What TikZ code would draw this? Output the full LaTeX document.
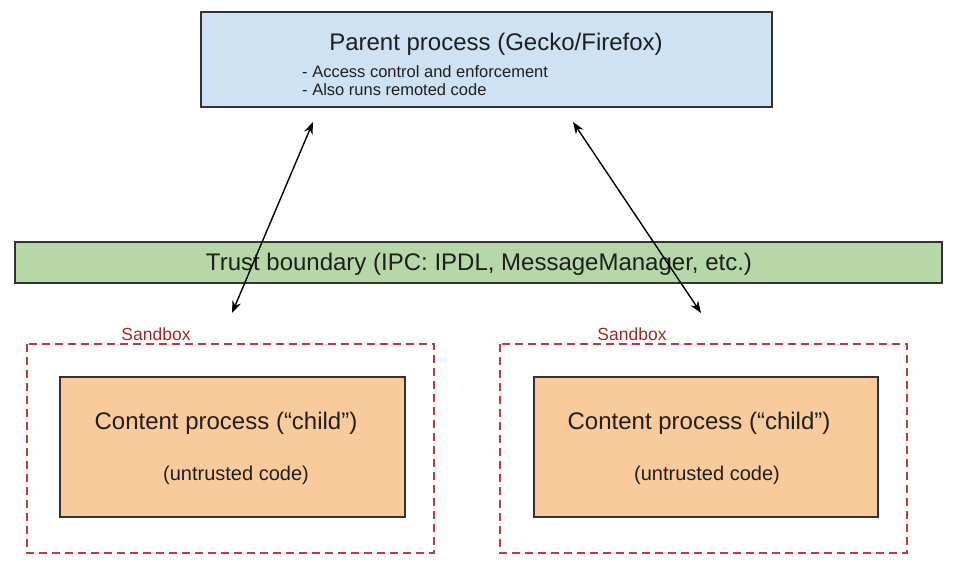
\documentclass[tikz,border=0pt]{standalone}
\usepackage{fontspec}
\setmainfont{Liberation Sans}
\usetikzlibrary{arrows.meta}
\definecolor{parentfill}{HTML}{CFE2F3}
\definecolor{trustfill}{HTML}{B6D7A8}
\definecolor{childfill}{HTML}{F9CB9C}
\definecolor{sandred}{HTML}{C0393B}
\definecolor{sandtext}{HTML}{A0282A}
\definecolor{boxline}{HTML}{333333}
\tikzset{
  procbox/.style={draw=boxline, line width=1.8pt, inner sep=0pt},
  sandboxrect/.style={draw=sandred, line width=1.8pt, dash pattern=on 8pt off 5pt},
  sandlabel/.style={text=sandtext, font=\fontsize{17.5}{20}\selectfont, inner sep=0pt},
  txt/.style={inner sep=0pt, text=black!88},
  link/.style={line width=1.4pt, {Stealth[length=12pt,width=9pt]}-{Stealth[length=12pt,width=9pt]}},
}
\begin{document}
\begin{tikzpicture}[x=1pt,y=-1pt]
\useasboundingbox (0,0) rectangle (955,568);
% parent
\draw[procbox, fill=parentfill] (201,12) rectangle (772,107);
\node[txt, font=\fontsize{24}{28}\selectfont] (ptitle) at (496,44) {Parent process (Gecko/Firefox)};
\node[txt, anchor=west, align=left, font=\fontsize{16.5}{18}\selectfont] (pbul) at (302,81) {- Access control and enforcement\\- Also runs remoted code};
\coordinate (pl) at (313,122);
\coordinate (pr) at (573,122);
% trust boundary
\draw[procbox, fill=trustfill] (15,242) rectangle (942,283);
\node[txt, font=\fontsize{24}{28}\selectfont] (trust) at (479,264) {Trust boundary (IPC: IPDL, MessageManager, etc.)};
\coordinate (cl) at (232,313);
\coordinate (cr) at (701,313);
% sandboxes
\draw[sandboxrect] (27,344) rectangle (434,553);
\draw[sandboxrect] (500,344) rectangle (907,553);
\node[sandlabel] (sl) at (156,334) {Sandbox};
\node[sandlabel] (sr) at (632,334) {Sandbox};
% content boxes
\draw[procbox, fill=childfill] (60,377) rectangle (405,517);
\draw[procbox, fill=childfill] (534,377) rectangle (878,517);
\node[txt, font=\fontsize{24}{28}\selectfont] (c1) at (226,423) {Content process (“child”)};
\node[txt, font=\fontsize{20}{24}\selectfont] (u1) at (236,475) {(untrusted code)};
\node[txt, font=\fontsize{24}{28}\selectfont] (c2) at (699,423) {Content process (“child”)};
\node[txt, font=\fontsize{20}{24}\selectfont] (u2) at (707,475) {(untrusted code)};
% arrows
\draw[link] (cl) -- (pl);
\draw[link] (cr) -- (pr);
\end{tikzpicture}
\end{document}
